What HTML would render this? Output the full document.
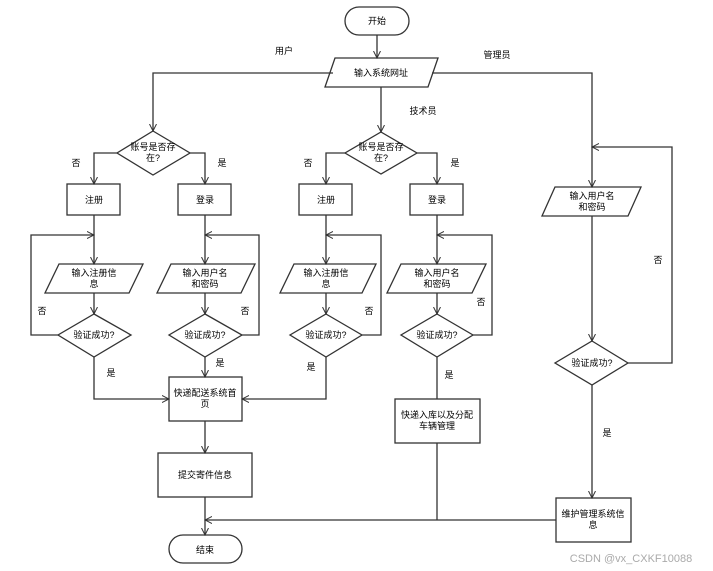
<!DOCTYPE html>
<html><head><meta charset="utf-8"><style>
html,body{margin:0;padding:0;background:#fff;}
svg{display:block;}
text{font-family:"Liberation Sans","Noto Sans CJK SC",sans-serif;font-size:9px;fill:#000;text-anchor:middle;}
</style></head><body>
<svg width="713" height="571" viewBox="0 0 713 571" xmlns="http://www.w3.org/2000/svg">
<defs>
<marker id="a" markerWidth="8" markerHeight="8" refX="7" refY="4" orient="auto" markerUnits="userSpaceOnUse">
<path d="M0,0.5 L7,4 L0,7.5" fill="none" stroke="#333" stroke-width="1"/>
</marker>
</defs>
<g fill="none" stroke="#333" stroke-width="1.3">
<!-- start -->
<rect x="345" y="7" width="64" height="28" rx="14"/>
<line x1="377" y1="35" x2="377" y2="58" marker-end="url(#a)"/>
<polygon points="335,58 438,58 428,87 325,87"/>
<!-- branches -->
<polyline points="333,73 153,73 153,131" marker-end="url(#a)"/>
<line x1="381" y1="87" x2="381" y2="132" marker-end="url(#a)"/>
<polyline points="432,73 592,73 592,187" marker-end="url(#a)"/>
<!-- col1/2 diamond -->
<polygon points="153,131 190,153 153,175 117,153"/>
<polyline points="117,153 94,153 94,184" marker-end="url(#a)"/>
<polyline points="190,153 205,153 205,184" marker-end="url(#a)"/>
<rect x="67" y="184" width="53" height="31"/>
<rect x="178" y="184" width="53" height="31"/>
<line x1="94" y1="215" x2="94" y2="264" marker-end="url(#a)"/>
<line x1="205" y1="215" x2="205" y2="264" marker-end="url(#a)"/>
<polygon points="59,264 143,264 129,293 45,293"/>
<polygon points="171,264 255,264 241,293 157,293"/>
<line x1="94" y1="293" x2="94" y2="314" marker-end="url(#a)"/>
<line x1="205" y1="293" x2="205" y2="314" marker-end="url(#a)"/>
<polygon points="94,314 131,335 94,357 58,335"/>
<polygon points="205,314 242,335 205,357 169,335"/>
<polyline points="58,335 31,335 31,235 94,235" marker-end="url(#a)"/>
<polyline points="242,335 259,335 259,235 205,235" marker-end="url(#a)"/>
<polyline points="94,357 94,399 169,399" marker-end="url(#a)"/>
<line x1="205" y1="357" x2="205" y2="377" marker-end="url(#a)"/>
<!-- col3/4 diamond -->
<polygon points="381,132 417,153 381,174 345,153"/>
<polyline points="345,153 326,153 326,184" marker-end="url(#a)"/>
<polyline points="417,153 437,153 437,184" marker-end="url(#a)"/>
<rect x="299" y="184" width="53" height="31"/>
<rect x="410" y="184" width="53" height="31"/>
<line x1="326" y1="215" x2="326" y2="264" marker-end="url(#a)"/>
<line x1="437" y1="215" x2="437" y2="264" marker-end="url(#a)"/>
<polygon points="294,264 376,264 362,293 280,293"/>
<polygon points="401,264 486,264 472,293 387,293"/>
<line x1="326" y1="293" x2="326" y2="314" marker-end="url(#a)"/>
<line x1="437" y1="293" x2="437" y2="314" marker-end="url(#a)"/>
<polygon points="326,314 362,335 326,357 290,335"/>
<polygon points="437,314 473,335 437,357 401,335"/>
<polyline points="362,335 381,335 381,235 326,235" marker-end="url(#a)"/>
<polyline points="473,335 492,335 492,235 437,235" marker-end="url(#a)"/>
<polyline points="326,357 326,399 242,399" marker-end="url(#a)"/>
<line x1="437" y1="357" x2="437" y2="399"/>
<!-- center boxes -->
<rect x="169" y="377" width="73" height="44"/>
<line x1="205" y1="421" x2="205" y2="453" marker-end="url(#a)"/>
<rect x="158" y="453" width="94" height="44"/>
<line x1="205" y1="497" x2="205" y2="535" marker-end="url(#a)"/>
<rect x="169" y="535" width="73" height="28" rx="14"/>
<rect x="395" y="399" width="85" height="44"/>
<line x1="437" y1="443" x2="437" y2="520"/>
<!-- admin -->
<polygon points="555,187 641,187 628,216 542,216"/>
<line x1="592" y1="216" x2="592" y2="341" marker-end="url(#a)"/>
<polygon points="592,341 628,363 592,385 555,363"/>
<polyline points="628,363 672,363 672,147 592,147" marker-end="url(#a)"/>
<line x1="592" y1="385" x2="592" y2="498" marker-end="url(#a)"/>
<rect x="556" y="498" width="75" height="44"/>
<polyline points="556,520 205,520" marker-end="url(#a)"/>
</g>
<text x="377" y="24">开始</text>
<text x="381" y="76">输入系统网址</text>
<text x="284" y="54">用户</text>
<text x="423" y="114">技术员</text>
<text x="497" y="58">管理员</text>
<text x="153" y="150">账号是否存</text><text x="153" y="161">在?</text>
<text x="381" y="150">账号是否存</text><text x="381" y="161">在?</text>
<text x="76" y="166">否</text><text x="222" y="166">是</text>
<text x="308" y="166">否</text><text x="455" y="166">是</text>
<text x="94" y="203">注册</text><text x="205" y="203">登录</text>
<text x="326" y="203">注册</text><text x="437" y="203">登录</text>
<text x="94" y="276">输入注册信</text><text x="94" y="287">息</text>
<text x="205" y="276">输入用户名</text><text x="205" y="287">和密码</text>
<text x="326" y="276">输入注册信</text><text x="326" y="287">息</text>
<text x="437" y="276">输入用户名</text><text x="437" y="287">和密码</text>
<text x="94" y="338">验证成功?</text><text x="205" y="338">验证成功?</text>
<text x="326" y="338">验证成功?</text><text x="437" y="338">验证成功?</text>
<text x="42" y="314">否</text><text x="245" y="314">否</text>
<text x="369" y="314">否</text><text x="481" y="305">否</text>
<text x="111" y="376">是</text><text x="220" y="366">是</text>
<text x="311" y="370">是</text><text x="449" y="378">是</text>
<text x="205" y="396">快递配送系统首</text><text x="205" y="407">页</text>
<text x="205" y="478">提交寄件信息</text>
<text x="205" y="553">结束</text>
<text x="437" y="418">快递入库以及分配</text><text x="437" y="429">车辆管理</text>
<text x="592" y="199">输入用户名</text><text x="592" y="210">和密码</text>
<text x="592" y="366">验证成功?</text>
<text x="658" y="263">否</text><text x="607" y="436">是</text>
<text x="593" y="517">维护管理系统信</text><text x="593" y="528">息</text>
<text x="631" y="562" style="fill:#aaa;font-size:11px">CSDN @vx_CXKF10088</text>
</svg>
</body></html>
